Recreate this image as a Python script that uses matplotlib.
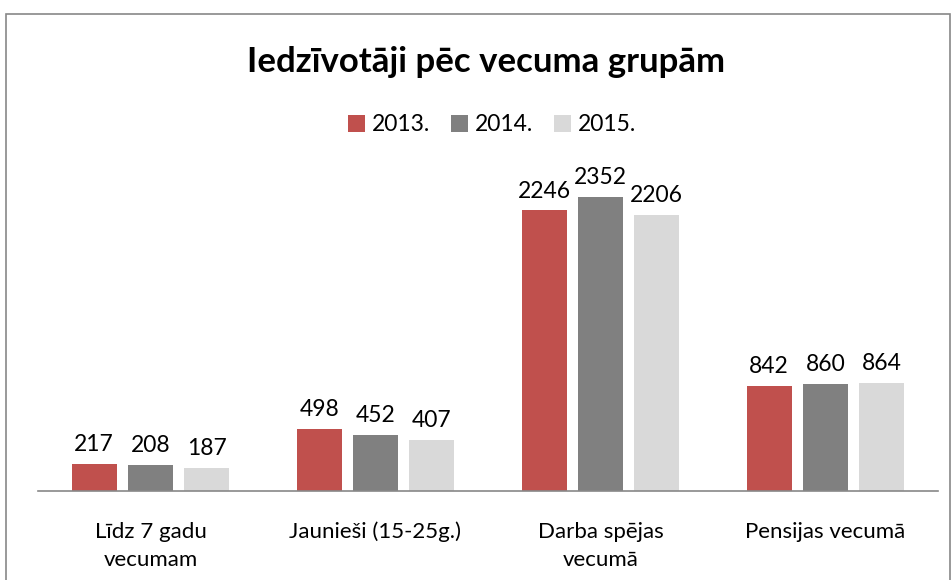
import matplotlib.pyplot as plt
import numpy as np
from matplotlib.patches import Rectangle

categories = ["Līdz 7 gadu\nvecumam", "Jaunieši (15-25g.)", "Darba spējas\nvecumā", "Pensijas vecumā"]
years = ["2013.", "2014.", "2015."]
v2013 = [217, 498, 2246, 842]
v2014 = [208, 452, 2352, 860]
v2015 = [187, 407, 2206, 864]
colors = ["#C0504D", "#808080", "#D9D9D9"]

plt.rcParams['font.family'] = ['Lato', 'DejaVu Sans']

W, H = 953, 580
fig = plt.figure(figsize=(W / 100, H / 100), dpi=100)

# outer chart border
fig.add_artist(Rectangle((6 / W, -0.05), 944 / W, 1.05 - 14 / H, transform=fig.transFigure,
                         fill=False, edgecolor="#888888", linewidth=1.2))

ax = fig.add_axes([38 / W, 1 - 491 / H, 900 / W, 325 / H])
x = np.arange(len(categories))
w = 0.2
step = 0.25
for i, (vals, lab) in enumerate(zip([v2013, v2014, v2015], years)):
    bars = ax.bar(x + (i - 1) * step, vals, w, color=colors[i], label=lab)
    for b, v in zip(bars, vals):
        ax.text(b.get_x() + b.get_width() / 2, v + 70, str(v), ha="center", va="bottom",
                fontsize=16.5, color="#000000")

ax.set_xlim(-0.5, 3.5)
ax.set_ylim(0, 2600)
ax.set_yticks([])
ax.set_xticks(x)
ax.set_xticklabels(categories, fontsize=16, linespacing=1.5)
ax.tick_params(axis="x", length=0, pad=22)
for s in ["top", "right", "left"]:
    ax.spines[s].set_visible(False)
ax.spines["bottom"].set_color("#888888")
ax.spines["bottom"].set_linewidth(1.2)

fig.text(486 / W, 1 - 62 / H, "Iedzīvotāji pēc vecuma grupām", ha="center", va="center",
         fontsize=25, fontweight="bold")

fig.legend(loc="center", bbox_to_anchor=(492 / W, 1 - 125 / H), ncol=3, frameon=False,
           fontsize=16.5, handlelength=0.75, handleheight=0.75, handletextpad=0.3, columnspacing=0.9)

fig.savefig("out.png", dpi=100)
